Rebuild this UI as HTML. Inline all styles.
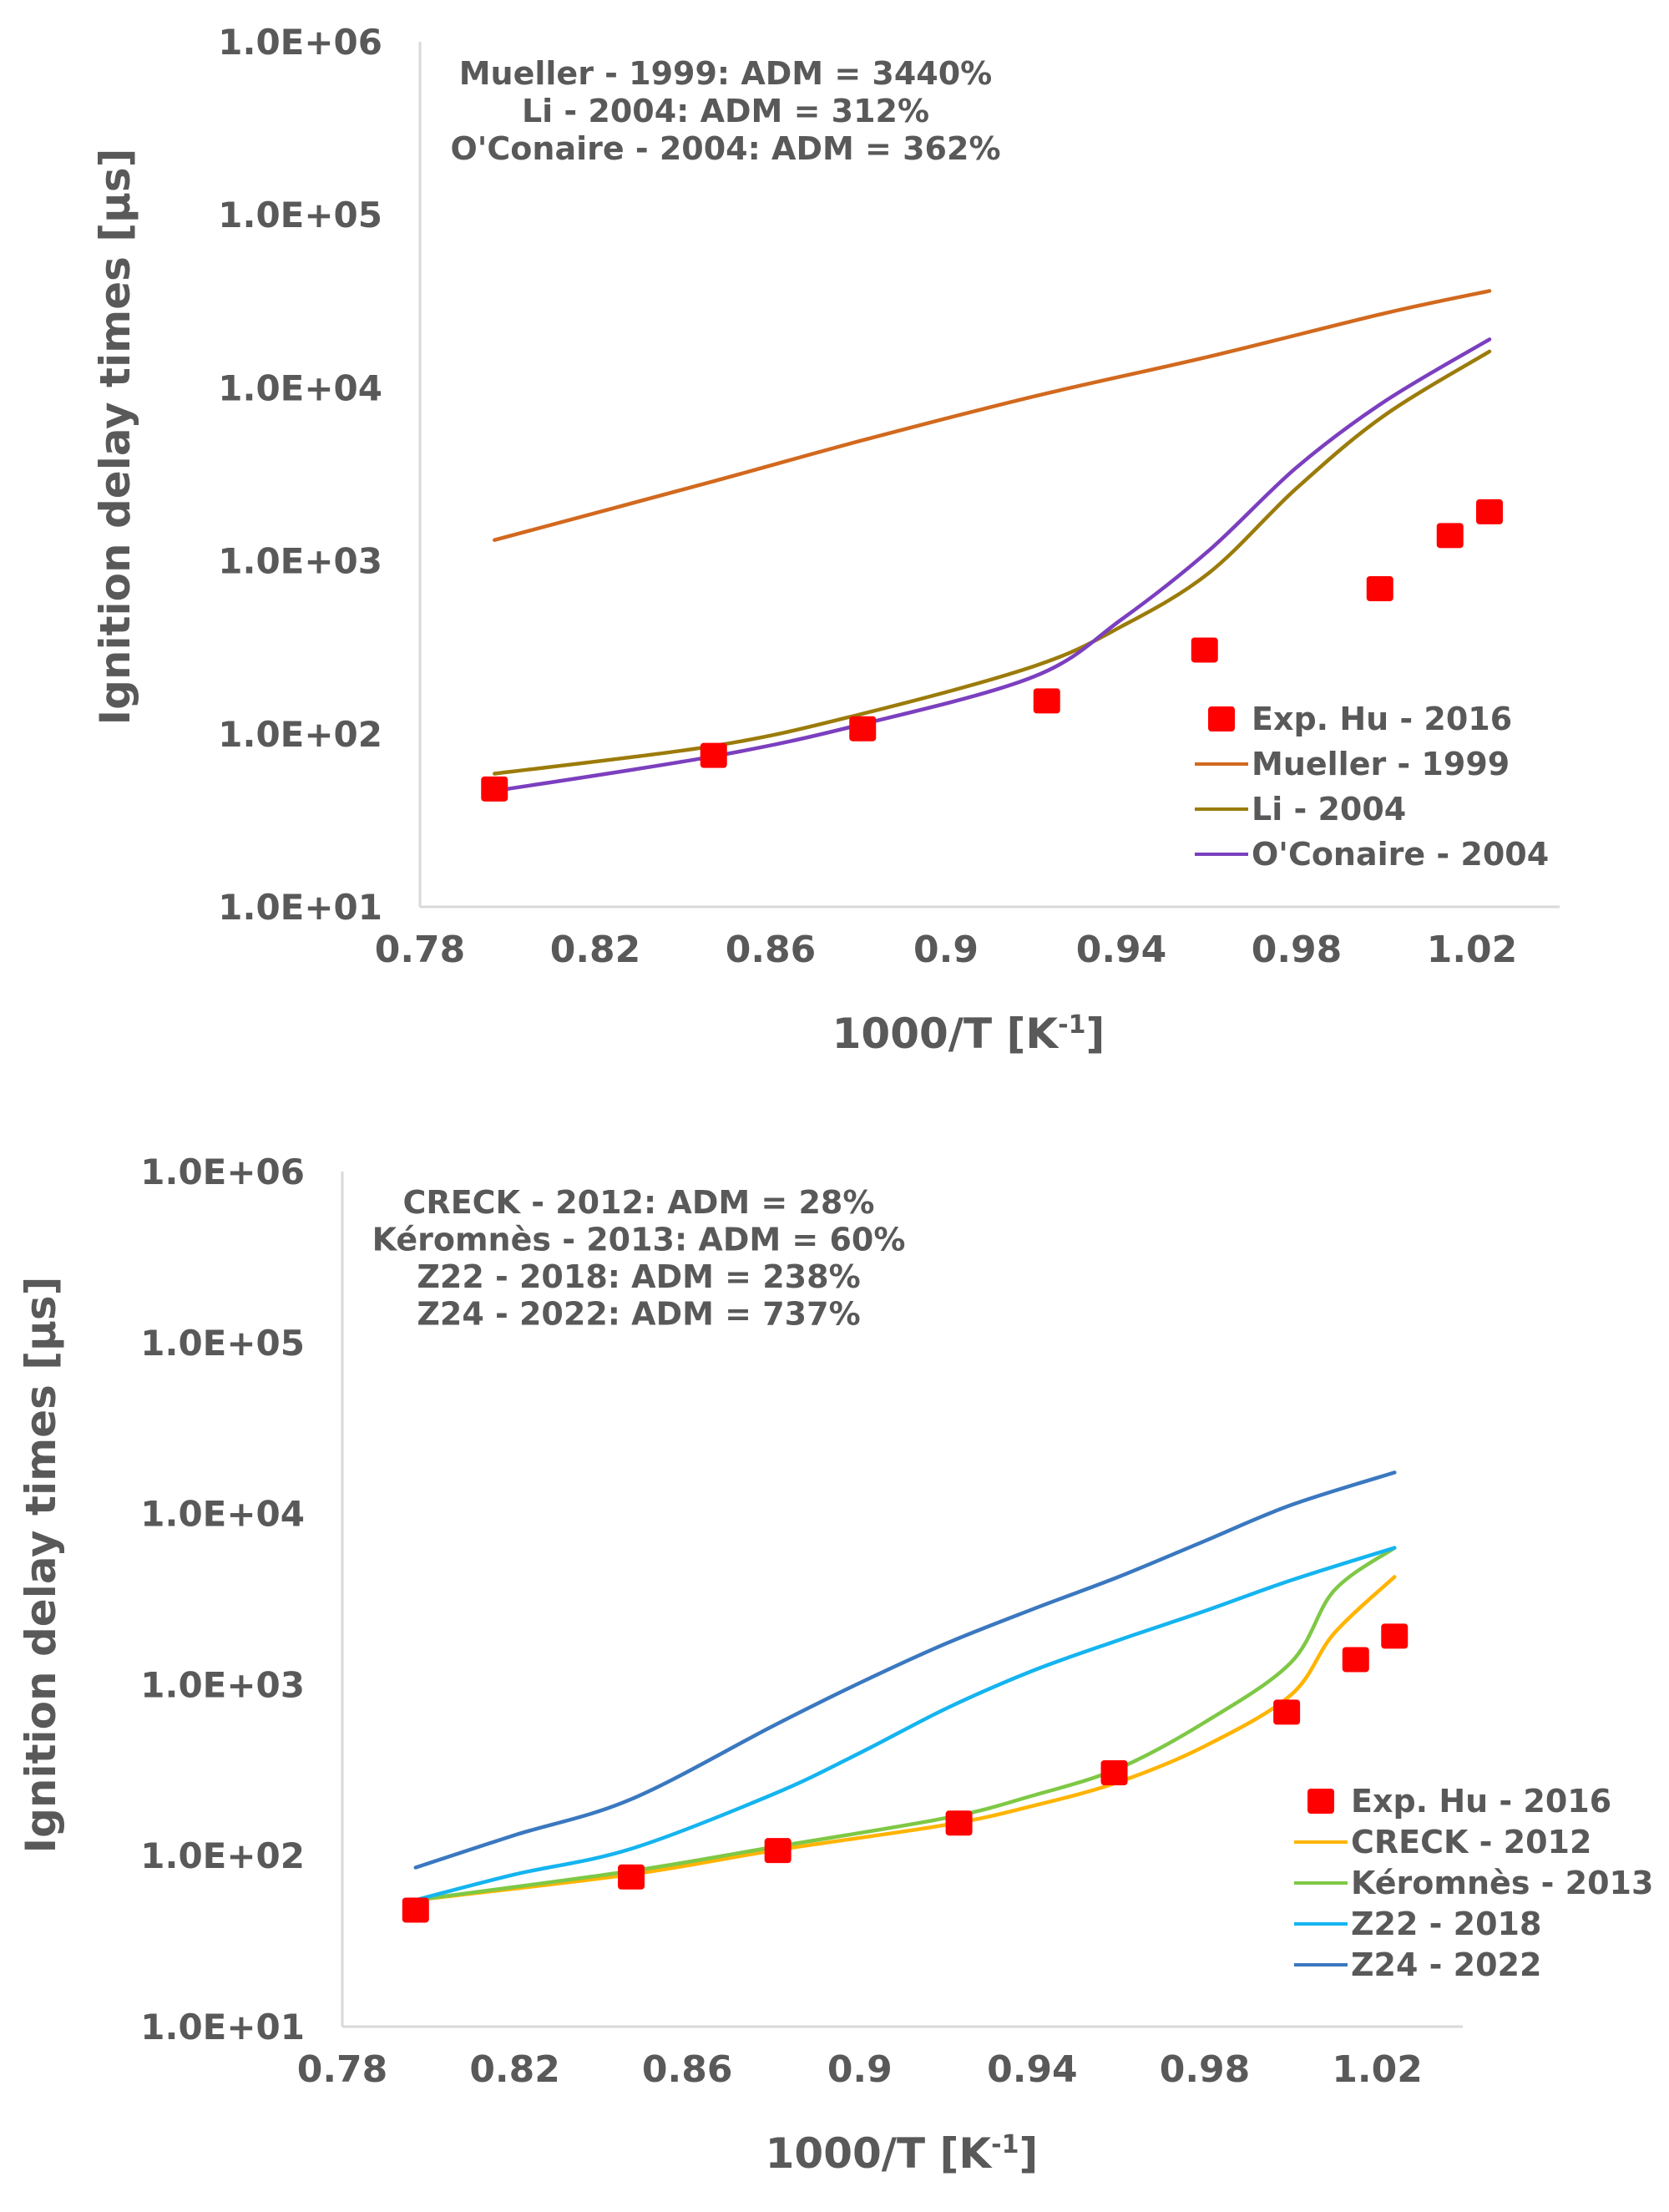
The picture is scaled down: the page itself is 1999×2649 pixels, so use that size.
<!DOCTYPE html>
<html><head><meta charset="utf-8"><style>
html,body{margin:0;padding:0;background:#fff;}
svg{display:block;}
text{font-family:"DejaVu Sans","Liberation Sans",sans-serif;font-weight:bold;fill:#595959;}
</style></head><body>
<svg id="svg" width="1999" height="2649" viewBox="0 0 1999 2649" xmlns="http://www.w3.org/2000/svg"></svg>
<script>
// ---- shared data ----
const xTicks = [0.78, 0.82, 0.86, 0.9, 0.94, 0.98, 1.02];
const xTickLabels = ["0.78", "0.82", "0.86", "0.9", "0.94", "0.98", "1.02"];
const yTickExps = [1, 2, 3, 4, 5, 6];
const yTickLabels = ["1.0E+01", "1.0E+02", "1.0E+03", "1.0E+04", "1.0E+05", "1.0E+06"];
const expX = [0.797, 0.847, 0.881, 0.923, 0.959, 0.999, 1.015, 1.024];
const expY = [48, 75, 107, 155, 305, 690, 1400, 1920];
// ---- top chart series (log10 values) ----
const topMuellerX = [0.797, 0.847, 0.88, 0.92, 0.96, 1.0, 1.024];
const topMuellerY = [3.12, 3.46, 3.69, 3.95, 4.18, 4.43, 4.56];
const topLiX = [0.797, 0.847, 0.88, 0.92, 0.94, 0.96, 0.98, 1.0, 1.024];
const topLiY = [1.77, 1.93, 2.11, 2.39, 2.62, 2.93, 3.42, 3.84, 4.21];
const topOCX = [0.797, 0.847, 0.88, 0.92, 0.94, 0.96, 0.98, 1.0, 1.024];
const topOCY = [1.67, 1.87, 2.05, 2.33, 2.66, 3.06, 3.54, 3.92, 4.28];
// ---- bottom chart series (log10 values) ----
const botZ24X = [0.797, 0.82, 0.847, 0.88, 0.9, 0.92, 0.94, 0.96, 0.98, 1.0, 1.024];
const botZ24Y = [1.93, 2.12, 2.33, 2.76, 3.01, 3.24, 3.44, 3.63, 3.84, 4.05, 4.24];
const botZ22X = [0.797, 0.82, 0.847, 0.88, 0.9, 0.92, 0.94, 0.96, 0.98, 1.0, 1.024];
const botZ22Y = [1.74, 1.89, 2.04, 2.36, 2.6, 2.86, 3.08, 3.26, 3.43, 3.61, 3.8];
const botCreckX = [0.797, 0.847, 0.88, 0.92, 0.94, 0.96, 0.98, 1.0, 1.01, 1.024];
const botCreckY = [1.74, 1.89, 2.03, 2.18, 2.29, 2.43, 2.64, 2.94, 3.3, 3.63];
const botKerX = [0.797, 0.847, 0.88, 0.92, 0.94, 0.96, 0.98, 1.0, 1.01, 1.024];
const botKerY = [1.74, 1.91, 2.05, 2.22, 2.35, 2.51, 2.78, 3.13, 3.55, 3.8];

const NS = "http://www.w3.org/2000/svg";
const svg = document.getElementById("svg");
function mk(tag, attrs, parent) {
  const e = document.createElementNS(NS, tag);
  for (const k in attrs) e.setAttribute(k, attrs[k]);
  (parent || svg).appendChild(e);
  return e;
}
function smoothPath(pts) {
  let d = "M" + pts[0][0].toFixed(1) + "," + pts[0][1].toFixed(1);
  for (let i = 0; i < pts.length - 1; i++) {
    const p0 = pts[Math.max(0, i - 1)], p1 = pts[i], p2 = pts[i + 1], p3 = pts[Math.min(pts.length - 1, i + 2)];
    const c1x = p1[0] + (p2[0] - p0[0]) / 6, c1y = p1[1] + (p2[1] - p0[1]) / 6;
    const c2x = p2[0] - (p3[0] - p1[0]) / 6, c2y = p2[1] - (p3[1] - p1[1]) / 6;
    d += " C" + c1x.toFixed(1) + "," + c1y.toFixed(1) + " " + c2x.toFixed(1) + "," + c2y.toFixed(1) + " " + p2[0].toFixed(1) + "," + p2[1].toFixed(1);
  }
  return d;
}

function drawChart(cfg) {
  const g = mk("g", {});
  
  
  const sx = v => cfg.x0 + (v - 0.78) * cfg.kx;
  const sy = e => cfg.yTop + (6 - e) * cfg.dec;
  const yBot = sy(1);
  const ya = mk("line", {x1: cfg.x0, y1: cfg.yTop, x2: cfg.x0, y2: yBot, stroke: "#d9d9d9", "stroke-width": 3}, g);
  
  
  const xa = mk("line", {x1: cfg.x0, y1: yBot, x2: cfg.xEnd, y2: yBot, stroke: "#d9d9d9", "stroke-width": 3}, g);
  
  
  yTickExps.forEach((e, i) => {
    const t = mk("text", {x: cfg.yLabelRight, y: sy(e) + 15, "text-anchor": "end", "font-size": 42}, g);
    t.textContent = yTickLabels[i];
    
    
  });
  xTicks.forEach((v, i) => {
    const t = mk("text", {x: sx(v), y: yBot + 66, "text-anchor": "middle", "font-size": 44}, g);
    t.textContent = xTickLabels[i];
    
    
  });
  const yt = mk("text", {x: 0, y: 0, "text-anchor": "middle", "font-size": 50, transform: "translate(" + cfg.yTitleX + "," + cfg.yTitleY + ") rotate(-90)"}, g);
  yt.textContent = "Ignition delay times [µs]";
  
  
  const xt = mk("text", {x: cfg.xTitleX, y: cfg.xTitleY, "text-anchor": "middle", "font-size": 50}, g);
  xt.innerHTML = '1000/T [K<tspan dy="-18" font-size="30">-1</tspan><tspan dy="18">]</tspan>';
  
  
  cfg.notes.forEach((s, i) => {
    const t = mk("text", {x: cfg.noteX, y: cfg.noteY + i * cfg.noteDy, "text-anchor": "middle", "font-size": 38}, g);
    t.textContent = s;
    
    
  });
  cfg.series.forEach(s => {
    const pts = s.x.map((v, i) => [sx(v), sy(s.y[i])]);
    const p = mk("path", {d: smoothPath(pts), fill: "none", stroke: s.color, "stroke-width": 4.5, "stroke-linejoin": "round", "stroke-linecap": "round"}, g);
    
    
  });
  expX.forEach((v, i) => {
    const cx = sx(v), cy = sy(Math.log10(expY[i]));
    const r = mk("rect", {x: cx - 16, y: cy - 15, width: 32, height: 30, rx: 4, fill: "#ff0000"}, g);
    
    
  });
  const lg = mk("g", {}, g);
  
  
  const mr = mk("rect", {x: cfg.legX + 16, y: cfg.legY - 15, width: 32, height: 30, rx: 4, fill: "#ff0000"}, lg);
  
  
  const et = mk("text", {x: cfg.legX + 68, y: cfg.legY + 13, "font-size": 38}, lg);
  et.textContent = "Exp. Hu - 2016";
  
  
  cfg.series.forEach((s, i) => {
    const yy = cfg.legY + (i + 1) * cfg.legDy;
    const l = mk("line", {x1: cfg.legX, y1: yy, x2: cfg.legX + 64, y2: yy, stroke: s.color, "stroke-width": 4}, lg);
    
    
    const t = mk("text", {x: cfg.legX + 68, y: yy + 13, "font-size": 38}, lg);
    t.textContent = s.label;
    
    
  });
}

drawChart({
  name: "top-chart", x0: 503, kx: 5250, xEnd: 1868, yTop: 50, dec: 207.2, yLabelRight: 458,
  yTitleX: 155, yTitleY: 523, xTitleX: 1160, xTitleY: 1255,
  notes: ["Mueller - 1999: ADM = 3440%", "Li - 2004: ADM = 312%", "O'Conaire - 2004: ADM = 362%"],
  noteX: 869, noteY: 101, noteDy: 45,
  legX: 1431, legY: 861, legDy: 54,
  series: [
    {id: "mueller-1999", label: "Mueller - 1999", color: "#d2691e", x: topMuellerX, y: topMuellerY},
    {id: "li-2004", label: "Li - 2004", color: "#9b7b0a", x: topLiX, y: topLiY},
    {id: "oconaire-2004", label: "O'Conaire - 2004", color: "#7b3fbf", x: topOCX, y: topOCY}
  ]
});
drawChart({
  name: "bottom-chart", x0: 410, kx: 5165, xEnd: 1752, yTop: 1403, dec: 204.8, yLabelRight: 365,
  yTitleX: 66, yTitleY: 1874, xTitleX: 1080, xTitleY: 2596,
  notes: ["CRECK - 2012: ADM = 28%", "Kéromnès - 2013: ADM = 60%", "Z22 - 2018: ADM = 238%", "Z24 - 2022: ADM = 737%"],
  noteX: 765, noteY: 1453, noteDy: 44.5,
  legX: 1550, legY: 2157, legDy: 49,
  series: [
    {id: "creck-2012", label: "CRECK - 2012", color: "#ffb400", x: botCreckX, y: botCreckY},
    {id: "keromnes-2013", label: "Kéromnès - 2013", color: "#7ec845", x: botKerX, y: botKerY},
    {id: "z22-2018", label: "Z22 - 2018", color: "#14b4f0", x: botZ22X, y: botZ22Y},
    {id: "z24-2022", label: "Z24 - 2022", color: "#3a78c0", x: botZ24X, y: botZ24Y}
  ]
});
</script>
</body></html>
